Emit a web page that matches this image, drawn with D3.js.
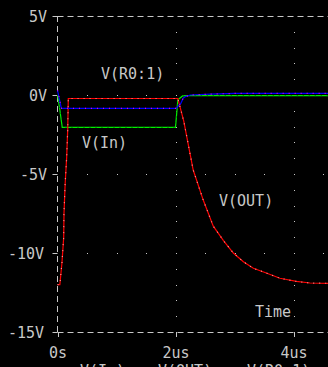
<!DOCTYPE html>
<html>
<head>
<meta charset="utf-8">
<script src="https://cdn.jsdelivr.net/npm/d3@7"></script>
<style>
  html, body { margin: 0; padding: 0; background: #000; overflow: hidden; }
  svg { display: block; }
  text { font-family: "DejaVu Sans Mono", monospace; font-size: 15px; fill: #c8c8c8; }
</style>
</head>
<body>
<div id="chart"></div>
<script>
(function() {

  var
    width = 328,
    height = 367;

  // time in us, values in volts
  var inTime  = [0, 0.04, 0.08, 2.0, 2.04, 2.12, 2.2, 4.8],
      inVals  = [0, -0.95, -2.05, -2.05, -0.3, -0.06, -0.04, -0.04];

  var outTime = [0, 0.04, 0.076, 0.105, 0.11, 0.13, 0.156, 0.173, 0.183, 2.04, 2.08, 2.14, 2.30, 2.47, 2.64, 2.81, 2.98, 3.15, 3.32, 3.55, 3.77, 4.05, 4.28, 4.8],
      outVals = [-12.0, -12.0, -10.6, -9.0, -7.5, -5.6, -3.9, -2.2, -0.22, -0.22, -0.8, -1.65, -4.75, -6.65, -8.3, -9.2, -10.0, -10.55, -10.97, -11.28, -11.6, -11.8, -11.9, -11.93];

  var r0Time  = [0, 0.06, 0.07, 2.01, 2.09, 2.13, 2.17, 2.25, 2.6, 3.0, 4.8],
      r0Vals  = [0.3, -0.75, -0.85, -0.85, -0.53, -0.2, -0.1, 0.0, 0.06, 0.1, 0.1];

  var yTicks = [5, 0, -5, -10, -15],
      yTickLabels = ['5V', '0V', '-5V', '-10V', '-15V'],
      xTicks = [0, 2, 4],
      xTickLabels = ['0s', '2us', '4us'],
      legendNames = ['V(In)', 'V(OUT)', 'V(R0:1)'];

  var x = d3.scaleLinear().domain([0, 5]).range([57.5, 352.5]),
      y = d3.scaleLinear().domain([-15, 5]).range([332, 16]);

  var svg = d3.select('#chart').append('svg')
    .attr('width', width)
    .attr('height', height);

  svg.append('rect').attr('width', width).attr('height', height).attr('fill', '#000');

  // dotted grid: vertical lines at 2us, 4us (dot every 1V), horizontal at 0, -5, -10 (dot every 0.5us)
  var grid = svg.append('g').attr('fill', '#c8c8c8');
  [2, 4].forEach(function(t) {
    d3.range(-14, 5).forEach(function(v) {
      grid.append('rect').attr('x', Math.round(x(t))).attr('y', Math.round(y(v))).attr('width', 1).attr('height', 1);
    });
  });
  [0, -5, -10].forEach(function(v) {
    d3.range(0.5, 5, 0.5).forEach(function(t) {
      grid.append('rect').attr('x', Math.round(x(t))).attr('y', Math.round(y(v))).attr('width', 1).attr('height', 1);
    });
  });

  // dashed frame
  var frame = svg.append('g')
    .attr('stroke', '#c8c8c8')
    .attr('stroke-width', 1)
    .attr('stroke-dasharray', '6,4')
    .attr('fill', 'none');
  frame.append('line').attr('x1', x(0)).attr('x2', width).attr('y1', y(5) + 0.5).attr('y2', y(5) + 0.5);
  frame.append('line').attr('x1', x(0)).attr('x2', width).attr('y1', y(-15) + 0.5).attr('y2', y(-15) + 0.5);
  frame.append('line').attr('x1', x(0)).attr('x2', x(0)).attr('y1', y(5)).attr('y2', y(-15));

  // ticks
  var ticks = svg.append('g').attr('stroke', '#c8c8c8').attr('stroke-width', 1);
  yTicks.forEach(function(v) {
    ticks.append('line').attr('x1', x(0) - 5).attr('x2', x(0)).attr('y1', y(v) + 0.5).attr('y2', y(v) + 0.5);
  });
  xTicks.forEach(function(t) {
    ticks.append('line').attr('x1', Math.round(x(t)) + 0.5).attr('x2', Math.round(x(t)) + 0.5).attr('y1', y(-15)).attr('y2', y(-15) + 5);
  });

  svg.append('g').selectAll('text')
    .data(yTicks)
    .enter().append('text')
    .attr('x', function(d, i) { return yTickLabels[i].length > 3 ? 44 : 47; })
    .attr('y', function(d) { return y(d) + 5.5; })
    .attr('text-anchor', 'end')
    .text(function(d, i) { return yTickLabels[i]; });

  svg.append('g').selectAll('text')
    .data(xTicks)
    .enter().append('text')
    .attr('x', function(d) { return x(d) + 0.5; })
    .attr('y', 357.5)
    .attr('text-anchor', 'middle')
    .text(function(d, i) { return xTickLabels[i]; });

  // traces
  function zip(ts, vs) { return ts.map(function(t, i) { return [t, vs[i]]; }); }
  var line = d3.line()
    .x(function(d) { return x(d[0]); })
    .y(function(d) { return y(d[1]); });

  var traces = [
    { data: zip(inTime, inVals),  base: '#00ee00', dot: '#007a00' },
    { data: zip(outTime, outVals), base: '#ff0000', dot: '#ff9090' },
    { data: zip(r0Time, r0Vals),  base: '#0000ff', dot: '#e000e0' }
  ];

  traces.forEach(function(tr) {
    svg.append('path')
      .attr('d', line(tr.data))
      .attr('fill', 'none')
      .attr('stroke', tr.base)
      .attr('stroke-width', 1.2);
    svg.append('path')
      .attr('d', line(tr.data))
      .attr('fill', 'none')
      .attr('stroke', tr.dot)
      .attr('stroke-width', 1.2)
      .attr('stroke-dasharray', '1,5');
  });

  // trace labels
  svg.append('text').attr('x', 101).attr('y', 78.5).text('V(R0:1)');
  svg.append('text').attr('x', 82).attr('y', 148).text('V(In)');
  svg.append('text').attr('x', 219).attr('y', 206).text('V(OUT)');
  svg.append('text').attr('x', 255).attr('y', 316.5).text('Time');

  // legend (mostly below the visible window)
  var legendX = [80, 158, 247];
  svg.append('g').selectAll('text')
    .data(legendNames)
    .enter().append('text')
    .attr('x', function(d, i) { return legendX[i]; })
    .attr('y', 376)
    .text(function(d) { return d; });

})();
</script>
</body>
</html>
